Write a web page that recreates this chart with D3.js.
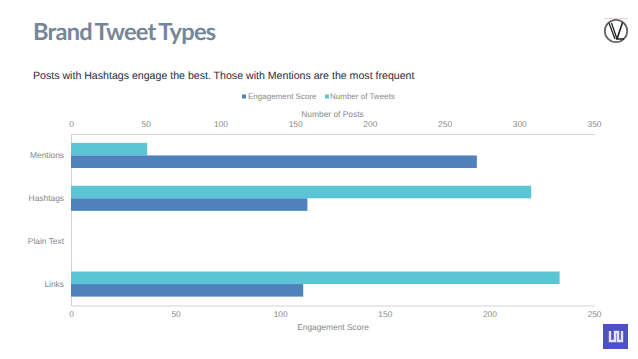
<!DOCTYPE html>
<html><head><meta charset="utf-8">
<script src="https://cdn.jsdelivr.net/npm/d3@7"></script>
<style>
html,body{margin:0;padding:0;background:#fff;overflow:hidden}
svg{display:block}
text{font-family:"Liberation Sans",Arial,sans-serif;text-rendering:geometricPrecision}
</style></head><body>
<svg id="c" width="638" height="359"></svg>
<script>
const categories = ["Mentions","Hashtags","Plain Text","Links"];
const engagementScore = [194,113,null,111];
const numberOfTweets = [51,308,null,327];
const engagementTicks = [0,50,100,150,200,250];
const tweetTicks = [0,50,100,150,200,250,300,350];
const legendLabels = ["Engagement Score","Number of Tweets"];
const titleText = "Brand Tweet Types";
const subtitleText = "Posts with Hashtags engage the best. Those with Mentions are the most frequent";

const BLUE="#4f81bd", TEAL="#5bc5d6", GREY="#878787", LINE="#d0d3d6";
const FS=8.4;
const svg=d3.select("#c");
const M={l:71,r:594,t:134,b:305.5};
const xE=d3.scaleLinear().domain([0,250]).range([M.l,M.r]);
const xT=d3.scaleLinear().domain([0,350]).range([M.l,M.r]);
const y=d3.scaleBand().domain(categories).range([M.t,M.b]).paddingInner(0.415).paddingOuter(0.2075);
const sub=d3.scaleBand().domain(["tweets","engagement"]).range([0,y.bandwidth()]);

svg.append("text").attr("x",33).attr("y",40).attr("font-size",23.6).attr("font-weight",700)
  .style("font-family","Lato").attr("fill","#74879a").attr("letter-spacing",-0.75).attr("word-spacing",-1.6).text(titleText);
svg.append("text").attr("x",33).attr("y",79).attr("font-size",10.6).attr("fill","#1f2d3d").text(subtitleText);

// legend
const lg=svg.append("g").attr("font-size",8).attr("fill",GREY);
[[242,BLUE,248],[325,TEAL,330]].forEach((d,i)=>{
  lg.append("rect").attr("x",d[0]).attr("y",94.5).attr("width",4).attr("height",4).attr("fill",d[1]);
  lg.append("text").attr("x",d[2]).attr("y",99).text(legendLabels[i]);
});

// axes
function style(g){
  g.selectAll("path.domain").attr("stroke",LINE);
  g.selectAll(".tick line").remove();
  g.selectAll("text").attr("fill",GREY).attr("font-size",FS).attr("font-family",'"Liberation Sans",Arial,sans-serif');
}
svg.append("g").attr("transform",`translate(0,${M.t})`)
  .call(d3.axisTop(xT).tickValues(tweetTicks).tickSize(0).tickPadding(7)).call(style);
svg.append("g").attr("transform",`translate(0,${M.b})`)
  .call(d3.axisBottom(xE).tickValues(engagementTicks).tickSize(0).tickPadding(6)).call(style);
svg.append("g").attr("transform",`translate(${M.l},0)`)
  .call(d3.axisLeft(y).tickSize(0).tickPadding(7)).call(style);

svg.append("text").attr("x",332.5).attr("y",116.5).attr("text-anchor","middle").attr("font-size",FS).attr("fill",GREY).text("Number of Posts");
svg.append("text").attr("x",333).attr("y",329.5).attr("text-anchor","middle").attr("font-size",FS).attr("fill",GREY).text("Engagement Score");

// bars
const bars=svg.append("g");
bars.selectAll("rect.t").data(categories.map((c,i)=>({c,v:numberOfTweets[i]})).filter(d=>d.v!=null))
  .join("rect").attr("class","t").attr("x",xT(0)).attr("y",d=>y(d.c)+sub("tweets"))
  .attr("width",d=>xT(d.v)-xT(0)).attr("height",sub.bandwidth()).attr("fill",TEAL);
bars.selectAll("rect.e").data(categories.map((c,i)=>({c,v:engagementScore[i]})).filter(d=>d.v!=null))
  .join("rect").attr("class","e").attr("x",xE(0)).attr("y",d=>y(d.c)+sub("engagement"))
  .attr("width",d=>xE(d.v)-xE(0)).attr("height",sub.bandwidth()).attr("fill",BLUE);

// top-right logo
const lv=svg.append("g").attr("transform","translate(616,31)").attr("fill","none");
lv.append("circle").attr("r",11.2).attr("stroke","#666").attr("stroke-width",1.8).attr("fill","#fff");
lv.append("path").attr("d","M-7,-8 L-1,8 M-4.5,-8 L1,8").attr("stroke","#222").attr("stroke-width",1.3);
lv.append("path").attr("d","M6.5,-8.5 L1,8 L8,8").attr("stroke","#222").attr("stroke-width",1.6);
svg.append("line").attr("x1",604).attr("x2",628).attr("y1",18.5).attr("y2",18.5).attr("stroke","#ecd2d2");

// bottom-right badge
const b=svg.append("g").attr("transform","translate(603,324)");
b.append("rect").attr("width",25).attr("height",25).attr("fill","#4f50c6");
b.append("path").attr("d","M7,7 V17 H12 V8 H15 V17 H19 V7").attr("fill","none").attr("stroke","#e4e4f6").attr("stroke-width",2.4);
</script>
</body></html>
